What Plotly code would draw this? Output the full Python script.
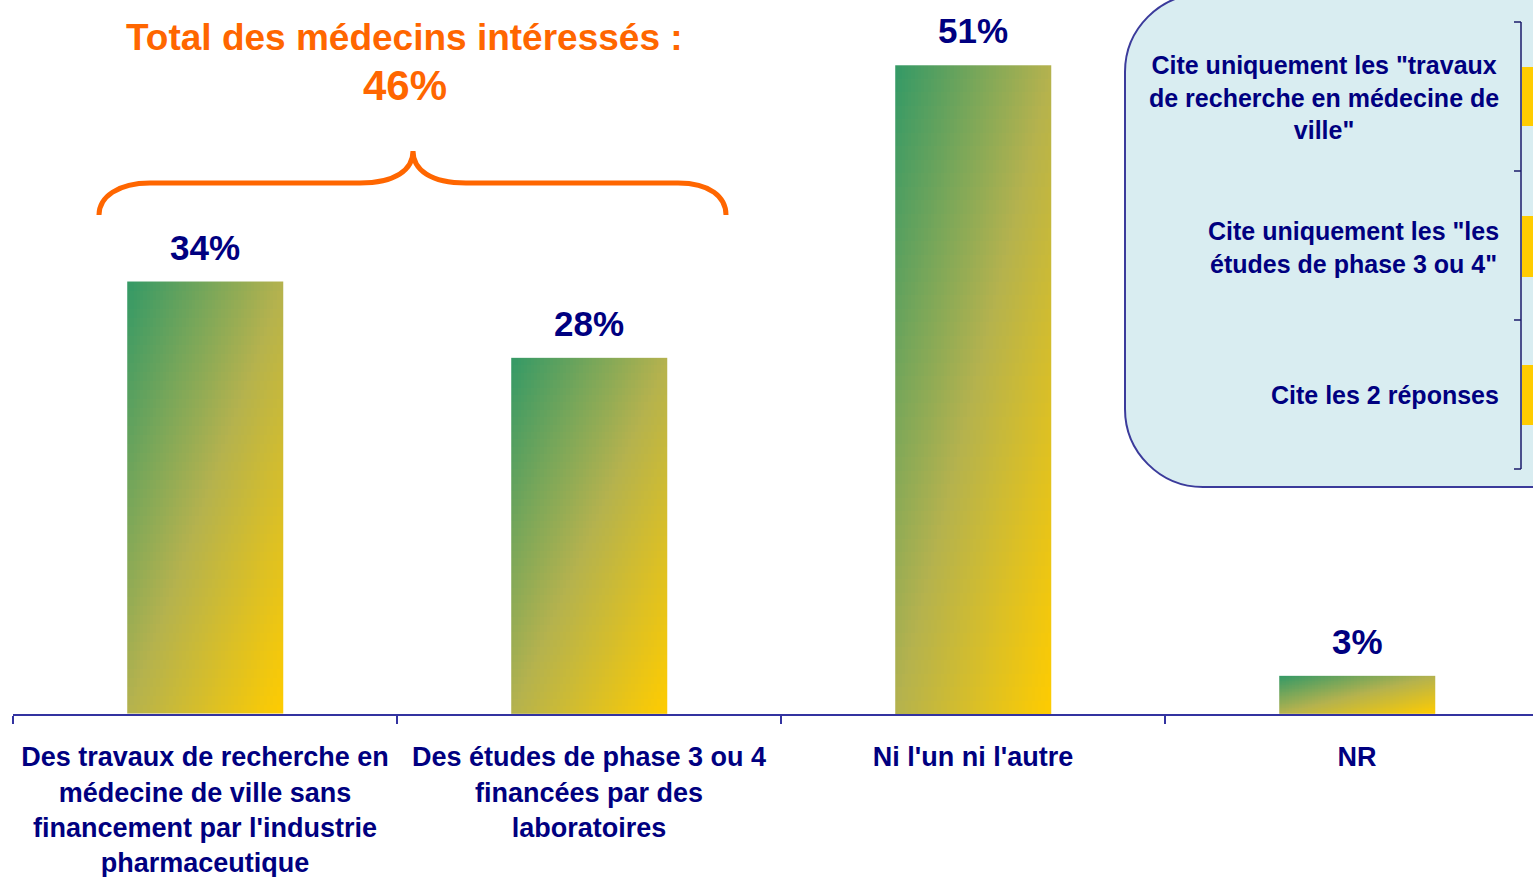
import numpy as np
import plotly.graph_objects as go

# ---------------- data ----------------
categories = [
    "Des travaux de recherche en<br>médecine de ville sans<br>financement par l'industrie<br>pharmaceutique",
    "Des études de phase 3 ou 4<br>financées par des<br>laboratoires",
    "Ni l'un ni l'autre",
    "NR",
]
values = [34, 28, 51, 3]
value_labels = ["34%", "28%", "51%", "3%"]
total_label = "Total des médecins intéressés :"
total_value = "46%"
legend_labels = [
    'Cite uniquement les "travaux<br>de recherche en médecine de<br>ville"',
    'Cite uniquement les "les<br>études de phase 3 ou 4"',
    'Cite les 2 réponses',
]

# ---------------- layout constants ----------------
W, H = 1533, 877
ML, MB = 13, 163
PLOT_W = W - ML
PLOT_H = H - MB
PX_PER_CAT = 384.0
PX_PER_PCT = 12.72
BAR_W = 0.405
GREEN, MID, YELLOW = "#339966", "#B4B24E", "#FFCC00"
NAVY = "#000080"
AXIS = "#3333A0"
ORANGE = "#FF6600"
FONT = "Liberation Sans, Arial, sans-serif"

x_range = [-0.5, -0.5 + PLOT_W / PX_PER_CAT]
y_range = [0, PLOT_H / PX_PER_PCT]


def px(x):
    return (x - ML) / PLOT_W


def py(y):
    return (PLOT_H - y) / PLOT_H


fig = go.Figure()

# gradient-filled bars (diagonal gradient: green top-left -> yellow bottom-right)
n = 48
u = (np.arange(n) + 0.5) / n
for i, v in enumerate(values):
    xe = np.linspace(i - BAR_W / 2, i + BAR_W / 2, n + 1)
    ye = np.linspace(0, v, n + 1)
    z = (u[None, :] + (1 - u[:, None])) / 2
    fig.add_trace(go.Heatmap(
        x=xe, y=ye, z=z, zmin=0, zmax=1,
        colorscale=[[0, GREEN], [0.5, MID], [1, YELLOW]],
        showscale=False, hoverinfo="skip",
    ))

fig.add_trace(go.Bar(
    x=list(range(len(values))), y=values, width=BAR_W,
    marker=dict(color="rgba(0,0,0,0)", line=dict(width=0)),
    hovertemplate="%{y}%<extra></extra>",
))

annotations = []
for i, (v, lab) in enumerate(zip(values, value_labels)):
    annotations.append(dict(
        x=i, y=v, xref="x", yref="y", text=lab, showarrow=False,
        yanchor="bottom", yshift=13,
        font=dict(family=FONT, size=35, color=NAVY, weight="bold"),
    ))

annotations.append(dict(
    x=px(404.5), y=py(37), xref="paper", yref="paper", text=total_label,
    showarrow=False, xanchor="center", yanchor="middle",
    font=dict(family=FONT, size=37, color=ORANGE, weight="bold"),
))
annotations.append(dict(
    x=px(404.5), y=py(85), xref="paper", yref="paper", text=total_value,
    showarrow=False, xanchor="center", yanchor="middle",
    font=dict(family=FONT, size=42, color=ORANGE, weight="bold"),
))

legend_centers = [98, 247, 395]
for lab, cy in zip(legend_labels, legend_centers):
    annotations.append(dict(
        x=px(1501), y=py(cy), xref="paper", yref="paper", text=lab,
        showarrow=False, xanchor="right", yanchor="middle", align="center",
        font=dict(family=FONT, size=25, color=NAVY, weight="bold"),
    ))

# curly bracket
brace = (
    f"M {px(99)},{py(215)} C {px(99)},{py(197)} {px(118)},{py(183)} {px(150)},{py(183)} "
    f"L {px(360)},{py(183)} C {px(395)},{py(183)} {px(413)},{py(170)} {px(413)},{py(151)} "
    f"C {px(413)},{py(170)} {px(431)},{py(183)} {px(466)},{py(183)} "
    f"L {px(678)},{py(183)} C {px(710)},{py(183)} {px(726)},{py(197)} {px(726)},{py(215)}"
)
shapes = [dict(type="path", xref="paper", yref="paper", path=brace,
               line=dict(color=ORANGE, width=5), layer="above")]

# legend panel (rounded box)
box = (
    f"M {px(1600)},{py(-6)} L {px(1203)},{py(-6)} "
    f"C {px(1160)},{py(-6)} {px(1125)},{py(29)} {px(1125)},{py(72)} "
    f"L {px(1125)},{py(409)} "
    f"C {px(1125)},{py(452)} {px(1160)},{py(487)} {px(1203)},{py(487)} "
    f"L {px(1600)},{py(487)} Z"
)
shapes.append(dict(type="path", xref="paper", yref="paper", path=box,
                   fillcolor="#D9EDF1", line=dict(color="#3B3B9B", width=2),
                   layer="below"))

# legend swatches + axis of the neighbouring panel
for y0, y1 in [(67, 126), (216, 277), (365, 425)]:
    shapes.append(dict(type="rect", xref="paper", yref="paper",
                       x0=px(1522), x1=px(1560), y0=py(y1), y1=py(y0),
                       fillcolor=YELLOW, line=dict(width=0), layer="above"))
shapes.append(dict(type="line", xref="paper", yref="paper",
                   x0=px(1521), x1=px(1521), y0=py(22), y1=py(469),
                   line=dict(color="#1A1A6A", width=1.5), layer="above"))
for ty in [22, 171, 320, 469]:
    shapes.append(dict(type="line", xref="paper", yref="paper",
                       x0=px(1514), x1=px(1521), y0=py(ty), y1=py(ty),
                       line=dict(color="#1A1A6A", width=1.5), layer="above"))

fig.update_layout(
    width=W, height=H, autosize=False,
    margin=dict(l=ML, r=0, t=0, b=MB, pad=0),
    paper_bgcolor="white", plot_bgcolor="white",
    showlegend=False,
    annotations=annotations,
    shapes=shapes,
    xaxis=dict(
        type="linear", range=x_range, fixedrange=True,
        tickmode="array", tickvals=list(range(len(categories))), ticktext=categories,
        ticks="", ticklabelstandoff=18,
        tickfont=dict(family=FONT, size=27, color=NAVY, weight="bold"),
        showline=True, linecolor=AXIS, linewidth=2,
        showgrid=False, zeroline=False,
        minor=dict(tickmode="array", tickvals=[-0.5, 0.5, 1.5, 2.5],
                   ticks="outside", ticklen=8, tickcolor=AXIS, tickwidth=1.5,
                   showgrid=False),
    ),
    yaxis=dict(range=y_range, visible=False, fixedrange=True),
)

fig.write_html(
    "out.html",
    config={"displayModeBar": False},
    post_script="document.body.style.margin='0';document.body.style.overflow='hidden';",
)
